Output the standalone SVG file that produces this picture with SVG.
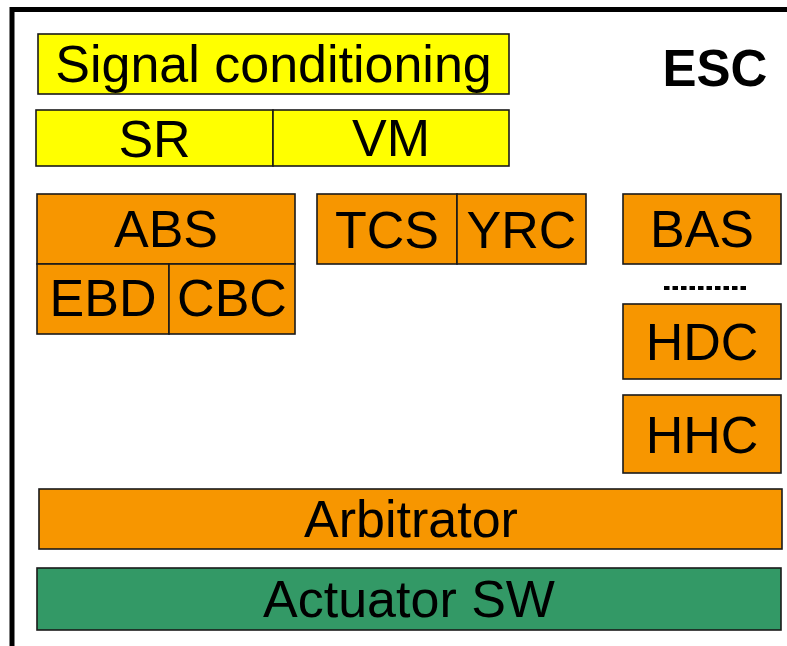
<svg xmlns="http://www.w3.org/2000/svg" width="787" height="646" viewBox="0 0 787 646">
<style>
.b{stroke:#1a1a1a;stroke-width:1.6}
.y{fill:#FFFF00}
.o{fill:#F79600}
.g{fill:#339966}
text{font-family:"Liberation Sans",Arial,sans-serif;font-size:52px;fill:#000;text-anchor:middle}
</style>
<rect width="787" height="646" fill="#fff"/>
<path d="M12,646 V9.5 H787" fill="none" stroke="#000" stroke-width="5"/>
<g id="esc"><text x="715" y="86" style="font-weight:bold;font-size:51px">ESC</text></g>
<g id="signal-conditioning"><rect class="b y" x="38" y="34" width="471" height="60"/><text x="273.5" y="82">Signal conditioning</text></g>
<g id="sr"><rect class="b y" x="36" y="110" width="237" height="56"/><text x="154.5" y="157">SR</text></g>
<g id="vm"><rect class="b y" x="273" y="110" width="236" height="56"/><text x="391" y="156">VM</text></g>
<g id="abs"><rect class="b o" x="37" y="194" width="258" height="70"/><text x="166" y="247">ABS</text></g>
<g id="ebd"><rect class="b o" x="37" y="264" width="132" height="70"/><text x="103" y="316">EBD</text></g>
<g id="cbc"><rect class="b o" x="169" y="264" width="126" height="70"/><text x="232" y="316">CBC</text></g>
<g id="tcs"><rect class="b o" x="317" y="194" width="140" height="70"/><text x="387" y="248">TCS</text></g>
<g id="yrc"><rect class="b o" x="457" y="194" width="129" height="70"/><text x="521.5" y="248">YRC</text></g>
<g id="bas"><rect class="b o" x="623" y="194" width="158" height="70"/><text x="702" y="247">BAS</text></g>
<g id="dots"><line x1="664" y1="288" x2="749" y2="288" stroke="#000" stroke-width="4" stroke-dasharray="5.5,3"/></g>
<g id="hdc"><rect class="b o" x="623" y="304" width="158" height="75"/><text x="702" y="360">HDC</text></g>
<g id="hhc"><rect class="b o" x="623" y="395" width="158" height="78"/><text x="702" y="453">HHC</text></g>
<g id="arbitrator"><rect class="b o" x="39" y="489" width="743" height="60"/><text x="411" y="537">Arbitrator</text></g>
<g id="actuator-sw"><rect class="b g" x="37" y="568" width="744" height="62"/><text x="409" y="617">Actuator SW</text></g>
<g id="connectors"></g>
</svg>
